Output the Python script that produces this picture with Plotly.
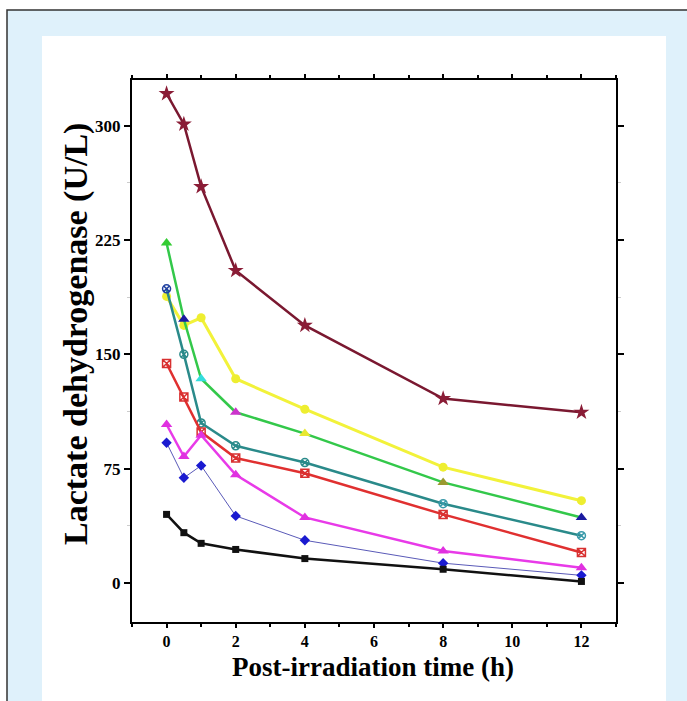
import plotly.graph_objects as go

time_h = [0, 0.5, 1, 2, 4, 8, 12]

ldh_maroon = [321, 301, 260, 205, 169, 121, 112]
ldh_yellow = [188, 169, 174, 134, 114, 76, 54]
ldh_green = [223, 173, 134, 112, 98, 66, 43]
ldh_teal = [193, 150, 105, 90, 79, 52, 31]
ldh_red = [144, 122, 99, 82, 72, 45, 20]
ldh_magenta = [104, 83, 97, 71, 43, 21, 10]
ldh_blue = [92, 69, 77, 44, 28, 13, 5]
ldh_black = [45, 33, 26, 22, 16, 9, 1]

y_ticks = [0, 75, 150, 225, 300]
x_ticks = [0, 2, 4, 6, 8, 10, 12]

series = [
    dict(y=ldh_maroon, line="#7a1830", mcolor="#8a1c36", symbol="star", size=12, width=2.5),
    dict(y=ldh_yellow, line="#f2f23a", mcolor="#eeee30", symbol="circle", size=9, width=3),
    dict(y=ldh_green, line="#33c84a",
         mcolor=["#33cc33", "#1a1aa0", "#33dddd", "#cc33cc", "#e8e830", "#9a9a30", "#1a1aa0"],
         symbol="triangle-up", size=10, width=2.5),
    dict(y=ldh_teal, line="#2a8a8a",
         mcolor=["#2040a0", "#2a8a8a", "#2a8a8a", "#2a8a8a", "#2a8a8a", "#3a9aaa", "#3a9aaa"],
         symbol="circle-x-open", size=8, width=2.5),
    dict(y=ldh_red, line="#e03030", mcolor="#d83030", symbol="square-x-open", size=8, width=2.5),
    dict(y=ldh_magenta, line="#e83ae8", mcolor="#e030e0", symbol="triangle-up", size=10, width=2.5),
    dict(y=ldh_blue, line="#5a5ab8", mcolor="#1a1ad0", symbol="diamond", size=8, width=1),
    dict(y=ldh_black, line="#111111", mcolor="#111111", symbol="square", size=7, width=2.5),
]

fig = go.Figure()
for s in series:
    fig.add_trace(go.Scatter(
        x=time_h, y=s["y"], mode="lines+markers",
        line=dict(color=s["line"], width=s["width"]),
        marker=dict(color=s["mcolor"], symbol=s["symbol"], size=s["size"],
                    line=dict(width=1.5 if "open" in s["symbol"] else 0,
                              color=s["mcolor"])),
        showlegend=False,
    ))

W, H = 687, 701
L, R, T, B = 132, 616, 80, 622

def px(x):
    return (x - L) / (R - L)

def py(y):
    return (B - y) / (B - T)

shapes = [
    dict(type="rect", xref="paper", yref="paper", layer="below",
         x0=px(7), x1=px(720), y0=py(730), y1=py(10),
         fillcolor="#dff1fb", line=dict(color="#333333", width=1.5)),
    dict(type="rect", xref="paper", yref="paper", layer="below",
         x0=px(42), x1=px(666), y0=py(730), y1=py(36),
         fillcolor="white", line=dict(width=0)),
]

serif = "Liberation Serif"
fig.update_layout(
    width=W, height=H,
    margin=dict(l=L, r=W - R, t=T, b=H - B),
    paper_bgcolor="white", plot_bgcolor="white",
    shapes=shapes,
    xaxis=dict(range=[-1, 13], tickvals=x_ticks, ticks="outside", ticklen=4,
               tickwidth=2, tickcolor="black", showline=True, linecolor="black",
               linewidth=2, mirror="ticks", showgrid=False, zeroline=False,
               tickfont=dict(family=serif, size=16, color="black", weight="bold"),
               minor=dict(dtick=1, tick0=0, ticks="outside", ticklen=3,
                          tickcolor="black", tickwidth=1.5)),
    yaxis=dict(range=[-25.6, 330], tickvals=y_ticks, ticks="outside", ticklen=6,
               tickwidth=2, tickcolor="black", showline=True, linecolor="black",
               linewidth=2, mirror="ticks", showgrid=False, zeroline=False,
               tickfont=dict(family=serif, size=17, color="black", weight="bold"),
               minor=dict(dtick=37.5, tick0=0, ticks="outside", ticklen=3,
                          tickcolor="#cccccc", tickwidth=1)),
    annotations=[
        dict(text="Lactate dehydrogenase (U/L)", xref="paper", yref="paper",
             x=px(76), y=py(334), xanchor="center", yanchor="middle",
             textangle=-90, showarrow=False,
             font=dict(family=serif, size=34, color="black", weight="bold")),
        dict(text="Post-irradiation time (h)", xref="paper", yref="paper",
             x=px(373), y=py(667), xanchor="center", yanchor="middle",
             showarrow=False,
             font=dict(family=serif, size=27, color="black", weight="bold")),
    ],
)

fig.write_html("out.html")
